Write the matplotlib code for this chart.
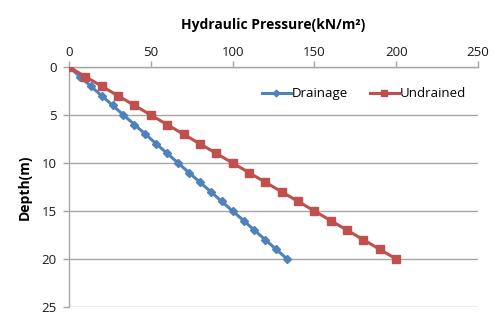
import matplotlib
matplotlib.use("Agg")
import matplotlib.pyplot as plt

plt.rcParams["font.family"] = ["Open Sans", "DejaVu Sans"]

depth = [0, 1, 2, 3, 4, 5, 6, 7, 8, 9, 10, 11, 12, 13, 14, 15, 16, 17, 18, 19, 20]
drainage = [0, 6.7, 13.3, 20, 26.7, 33.3, 40, 46.7, 53.3, 60, 66.7,
            73.3, 80, 86.7, 93.3, 100, 106.7, 113.3, 120, 126.7, 133.3]
undrained = [0, 10, 20, 30, 40, 50, 60, 70, 80, 90, 100,
             110, 120, 130, 140, 150, 160, 170, 180, 190, 200]

blue = "#4F81BD"
red = "#C0504D"
grid_c = "#A6A6A6"

fig = plt.figure(figsize=(5.0, 3.28), dpi=100)
ax = fig.add_axes([69 / 500, 1 - 307 / 328, 409 / 500, 240 / 328])

ax.plot(drainage, depth, color=blue, lw=2.2, marker="D", ms=4.2,
        mec=blue, mfc=blue, label="Drainage", zorder=3)
ax.plot(undrained, depth, color=red, lw=2.2, marker="s", ms=6.0,
        mec=red, mfc=red, label="Undrained", zorder=4)

ax.set_xlim(0, 250)
ax.set_ylim(25, 0)
ax.set_xticks(range(0, 251, 50))
ax.set_yticks(range(0, 26, 5))
ax.xaxis.tick_top()
ax.xaxis.set_label_position("top")
ax.grid(axis="y", color=grid_c, lw=1.0)
ax.set_axisbelow(True)

for side in ("right", "bottom"):
    ax.spines[side].set_visible(False)
for side in ("left", "top"):
    ax.spines[side].set_color(grid_c)
    ax.spines[side].set_linewidth(1.0)

ax.tick_params(axis="both", colors=grid_c, labelcolor="#1a1a1a",
               labelsize=9.5, length=4, width=1.0)
ax.tick_params(axis="x", pad=2)
ax.tick_params(axis="y", pad=5)

ax.set_xlabel("Hydraulic Pressure(kN/m²)", fontsize=10, fontweight="bold",
              labelpad=12)
ax.set_ylabel("Depth(m)", fontsize=10, fontweight="bold", labelpad=7)

ax.legend(loc="upper right", bbox_to_anchor=(1.0, 0.965), ncol=2,
          frameon=False, fontsize=9.5, handlelength=2.2, handletextpad=0.1,
          columnspacing=1.6, markerscale=0.8)

fig.savefig("out.png", dpi=100)
